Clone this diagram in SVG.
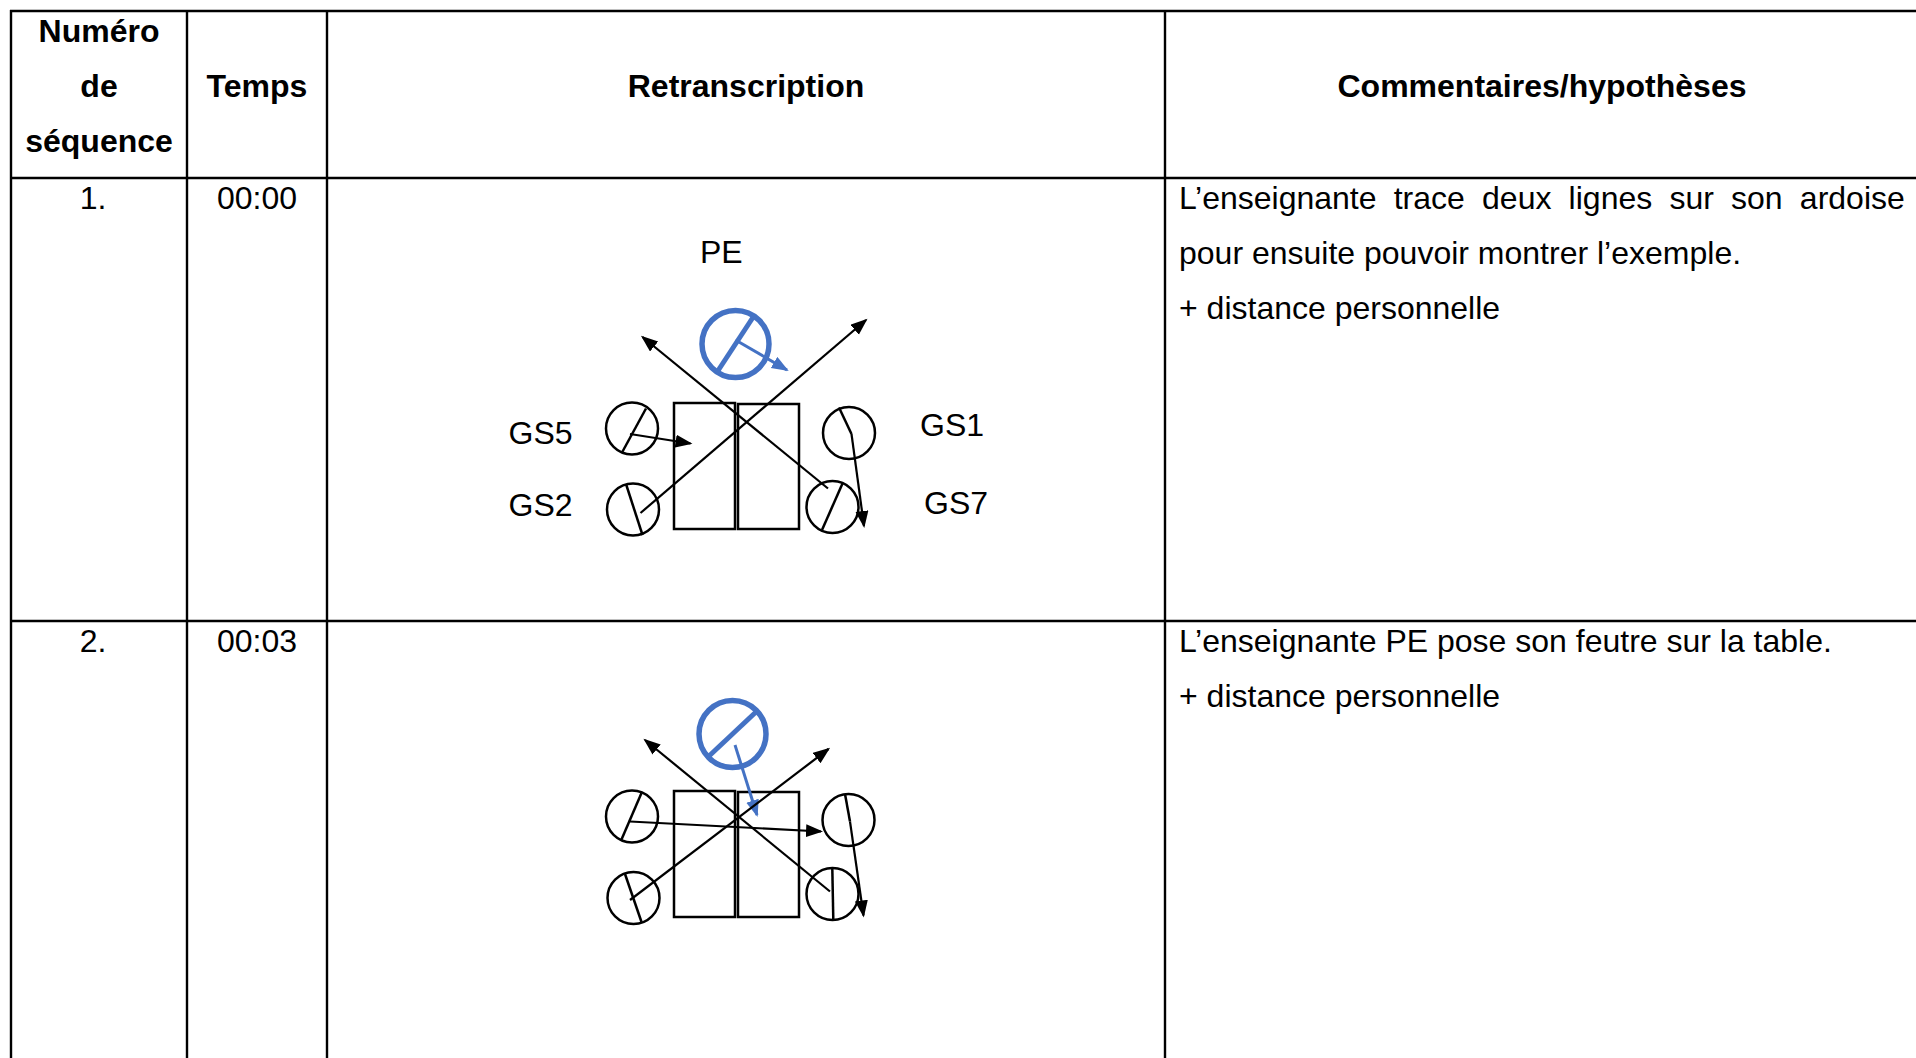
<svg xmlns="http://www.w3.org/2000/svg" width="1916" height="1058" viewBox="0 0 1916 1058">
<style>
.bg{fill:#ffffff}
.grid{stroke:#000;stroke-width:2.4;fill:none}
.hd{font-family:"Liberation Sans",Arial,sans-serif;font-size:32px;font-weight:bold;fill:#000}
.tx{font-family:"Liberation Sans",Arial,sans-serif;font-size:32px;fill:#000}
.desk{fill:none;stroke:#000;stroke-width:2.5}
.pers{fill:none;stroke:#000;stroke-width:2.5}
.face{stroke:#000;stroke-width:2.5;fill:none}
.pe{fill:none;stroke:#4472C4;stroke-width:5.5}
.pef{stroke:#4472C4;stroke-width:5;fill:none}
.arr{stroke:#000;stroke-width:2.2;fill:none;marker-end:url(#ah)}
.arrb{stroke:#4472C4;stroke-width:3;fill:none;marker-end:url(#ahb)}
</style>
<defs>
<marker id="ah" markerUnits="userSpaceOnUse" markerWidth="18" markerHeight="14" refX="15" refY="6.5" orient="auto">
<path d="M0,0 L17,6.5 L0,13 z" fill="#000"/>
</marker>
<marker id="ahb" markerUnits="userSpaceOnUse" markerWidth="18" markerHeight="14" refX="15" refY="6.5" orient="auto">
<path d="M0,0 L17,6.5 L0,13 z" fill="#4472C4"/>
</marker>
</defs>
<rect class="bg" x="0" y="0" width="1916" height="1058"/>

<g id="table">
<line class="grid" x1="10" y1="11" x2="1916" y2="11"/>
<line class="grid" x1="10" y1="178" x2="1916" y2="178"/>
<line class="grid" x1="10" y1="621" x2="1916" y2="621"/>
<line class="grid" x1="11" y1="10" x2="11" y2="1058"/>
<line class="grid" x1="187" y1="10" x2="187" y2="1058"/>
<line class="grid" x1="327" y1="10" x2="327" y2="1058"/>
<line class="grid" x1="1165" y1="10" x2="1165" y2="1058"/>
</g>

<g id="header">
<text class="hd" x="99" y="42" text-anchor="middle">Numéro</text>
<text class="hd" x="99" y="97" text-anchor="middle">de</text>
<text class="hd" x="99" y="152" text-anchor="middle">séquence</text>
<text class="hd" x="257" y="97" text-anchor="middle">Temps</text>
<text class="hd" x="746" y="97" text-anchor="middle">Retranscription</text>
<text class="hd" x="1542" y="97" text-anchor="middle">Commentaires/hypothèses</text>
</g>

<g id="row1">
<text class="tx" x="93" y="209" text-anchor="middle">1.</text>
<text class="tx" x="257" y="209" text-anchor="middle">00:00</text>
<text class="tx" x="1179" y="209" word-spacing="8.3">L’enseignante trace deux lignes sur son ardoise</text>
<text class="tx" x="1179" y="264">pour ensuite pouvoir montrer l’exemple.</text>
<text class="tx" x="1179" y="319">+ distance personnelle</text>
</g>

<g id="row2">
<text class="tx" x="93" y="652" text-anchor="middle">2.</text>
<text class="tx" x="257" y="652" text-anchor="middle">00:03</text>
<text class="tx" x="1179" y="652">L’enseignante PE pose son feutre sur la table.</text>
<text class="tx" x="1179" y="707">+ distance personnelle</text>
</g>

<!-- Diagram 1 -->
<g id="d1-desks">
<rect class="desk" x="674" y="403" width="61" height="126"/>
<rect class="desk" x="738" y="404" width="61" height="125"/>
</g>
<g id="d1-PE">
<text class="tx" x="700" y="263">PE</text>
<circle class="pe" cx="735.5" cy="344" r="33.5"/>
<line class="pef" x1="754.5" y1="315" x2="716.5" y2="373"/>
</g>
<g id="d1-GS5">
<text class="tx" x="508.5" y="444">GS5</text>
<circle class="pers" cx="632" cy="428.5" r="26"/>
<line class="face" x1="646" y1="408.5" x2="622" y2="452.5"/>
</g>
<g id="d1-GS2">
<text class="tx" x="508.5" y="516">GS2</text>
<circle class="pers" cx="633" cy="509.5" r="26"/>
<line class="face" x1="626" y1="484" x2="642.5" y2="535"/>
</g>
<g id="d1-GS1">
<text class="tx" x="920" y="436">GS1</text>
<circle class="pers" cx="849" cy="433" r="26"/>
<line class="face" x1="839" y1="407.5" x2="851.5" y2="434"/>
</g>
<g id="d1-GS7">
<text class="tx" x="924" y="514">GS7</text>
<circle class="pers" cx="832.5" cy="507" r="26"/>
<line class="face" x1="842.5" y1="483.5" x2="822" y2="530"/>
</g>

<!-- Diagram 2 -->
<g id="d2-desks">
<rect class="desk" x="674" y="791" width="61" height="126"/>
<rect class="desk" x="738" y="792" width="61" height="125"/>
</g>
<g id="d2-PE">
<circle class="pe" cx="732.5" cy="734" r="33.5"/>
<line class="pef" x1="757" y1="711" x2="708" y2="757"/>
</g>
<g id="d2-GS5">
<circle class="pers" cx="632" cy="816.5" r="26"/>
<line class="face" x1="641.5" y1="793" x2="621.5" y2="839.5"/>
</g>
<g id="d2-GS2">
<circle class="pers" cx="633.5" cy="898" r="26"/>
<line class="face" x1="625" y1="874" x2="641.5" y2="922"/>
</g>
<g id="d2-GS1">
<circle class="pers" cx="848.5" cy="820" r="26"/>
<line class="face" x1="845" y1="794" x2="850" y2="821.5"/>
</g>
<g id="d2-GS7">
<circle class="pers" cx="832.5" cy="894" r="26"/>
<line class="face" x1="832.3" y1="868" x2="833.3" y2="920"/>
</g>

<g id="connectors">
<line class="arrb" x1="735.5" y1="340" x2="787" y2="370"/>
<line class="arr" x1="630" y1="434" x2="690.5" y2="443.5"/>
<line class="arr" x1="640.5" y1="513" x2="866" y2="320"/>
<line class="arr" x1="828" y1="488.5" x2="642.5" y2="337"/>
<line class="arr" x1="851.5" y1="434" x2="864" y2="526"/>

<line class="arrb" x1="735" y1="745" x2="757" y2="815"/>
<line class="arr" x1="630" y1="821.5" x2="821" y2="831.5"/>
<line class="arr" x1="630" y1="900" x2="828.5" y2="749"/>
<line class="arr" x1="830" y1="891.5" x2="645" y2="740"/>
<line class="arr" x1="850" y1="821.5" x2="863.5" y2="915.5"/>
</g>
</svg>
